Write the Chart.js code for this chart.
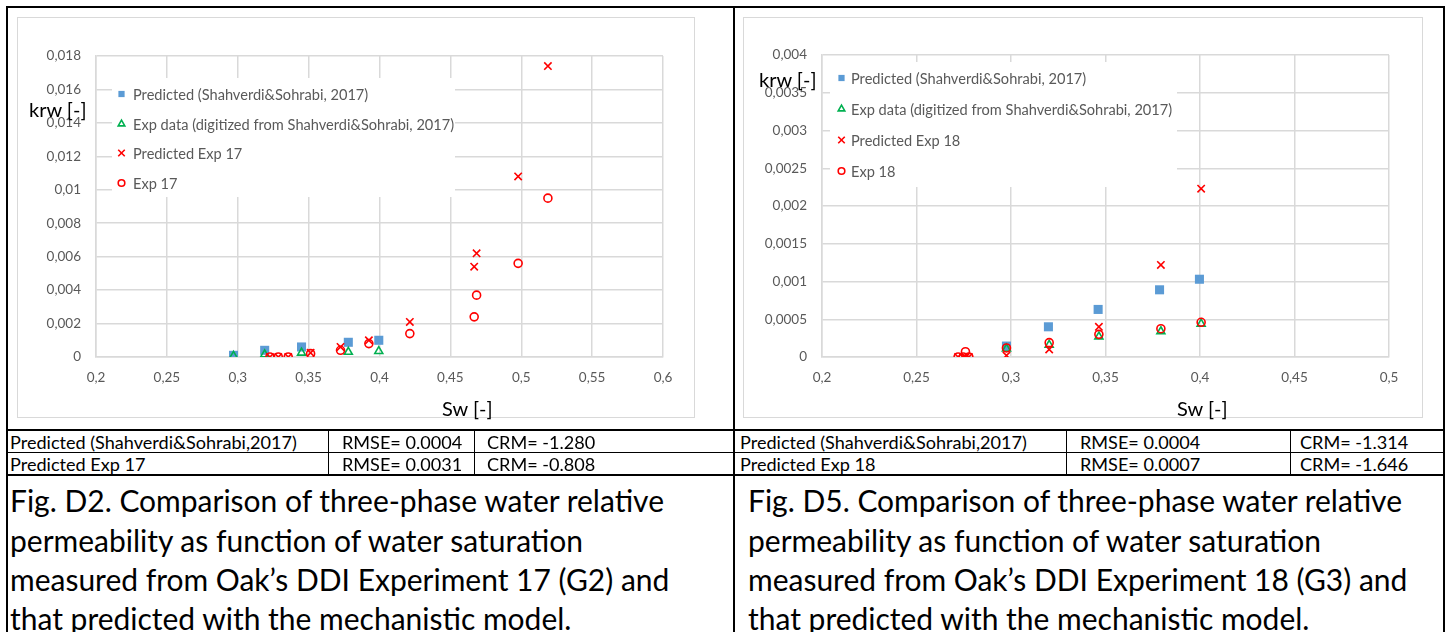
<!DOCTYPE html>
<html>
<head>
<meta charset="utf-8">
<script src="https://cdn.jsdelivr.net/npm/chart.js@4.4.1/dist/chart.umd.min.js"></script>
<style>
  html, body { margin: 0; padding: 0; background: #fff; }
  body { width: 1450px; height: 632px; position: relative; overflow: hidden; font-family: Lato, "Open Sans", sans-serif; }
  .ln { position: absolute; background: #000; }
  .frame { position: absolute; border: 1.5px solid #d9d9d9; box-sizing: border-box; }
  .cv { position: absolute; }
  .txt { position: absolute; white-space: nowrap; color: #000; }
  .ax { font-size: 20px; line-height: 24px; height: 24px; }
  .cell { height: 22px; line-height: 22px; }
  .cap { height: 40px; line-height: 40px; }
</style>
</head>
<body>

<!-- cell borders -->
<div class="ln" style="left:6px;top:6px;width:1439px;height:2px"></div>
<div class="ln" style="left:6px;top:6px;width:2px;height:626px"></div>
<div class="ln" style="left:733px;top:6px;width:2px;height:626px"></div>
<div class="ln" style="left:1443px;top:6px;width:2px;height:626px"></div>
<div class="ln" style="left:6px;top:429px;width:1439px;height:2px"></div>
<div class="ln" style="left:6px;top:452px;width:1439px;height:1px"></div>
<div class="ln" style="left:6px;top:474px;width:1439px;height:2px"></div>
<div class="ln" style="left:328px;top:430px;width:1px;height:45px"></div>
<div class="ln" style="left:474px;top:430px;width:1px;height:45px"></div>
<div class="ln" style="left:1066px;top:430px;width:1px;height:45px"></div>
<div class="ln" style="left:1290px;top:430px;width:1px;height:45px"></div>

<!-- chart frames and canvases -->
<div class="frame" style="left:17px;top:17px;width:678px;height:401px"></div>
<div class="frame" style="left:743px;top:17px;width:680px;height:401px"></div>
<canvas id="c17" class="cv" width="678" height="401" style="left:17px;top:17px"></canvas>
<canvas id="c18" class="cv" width="680" height="401" style="left:743px;top:17px"></canvas>

<!-- axis titles -->
<div class="txt ax" style="left:29px;top:97px">krw [-]</div>
<div class="txt ax" style="left:442px;top:396px">Sw [-]</div>
<div class="txt ax" style="left:759px;top:67px">krw [-]</div>
<div class="txt ax" style="left:1177px;top:396px">Sw [-]</div>

<!-- statistics rows -->
<div class="txt cell tb" style="left:10px;top:431px">Predicted (Shahverdi&amp;Sohrabi,2017)</div>
<div class="txt cell tb" style="left:342px;top:431px">RMSE= 0.0004</div>
<div class="txt cell tb" style="left:487px;top:431px">CRM= -1.280</div>
<div class="txt cell tb" style="left:10px;top:453px">Predicted Exp 17</div>
<div class="txt cell tb" style="left:342px;top:453px">RMSE= 0.0031</div>
<div class="txt cell tb" style="left:487px;top:453px">CRM= -0.808</div>

<div class="txt cell tb" style="left:740px;top:431px">Predicted (Shahverdi&amp;Sohrabi,2017)</div>
<div class="txt cell tb" style="left:1080px;top:431px">RMSE= 0.0004</div>
<div class="txt cell tb" style="left:1300px;top:431px">CRM= -1.314</div>
<div class="txt cell tb" style="left:740px;top:453px">Predicted Exp 18</div>
<div class="txt cell tb" style="left:1080px;top:453px">RMSE= 0.0007</div>
<div class="txt cell tb" style="left:1300px;top:453px">CRM= -1.646</div>

<!-- figure captions -->
<div class="txt cap" style="left:10px;top:480px">Fig. D2. Comparison of three-phase water relative</div>
<div class="txt cap" style="left:10px;top:520px">permeability as function of water saturation</div>
<div class="txt cap" style="left:10px;top:559px">measured from Oak’s DDI Experiment 17 (G2) and</div>
<div class="txt cap" style="left:10px;top:598px">that predicted with the mechanistic model.</div>

<div class="txt cap" style="left:748px;top:480px">Fig. D5. Comparison of three-phase water relative</div>
<div class="txt cap" style="left:748px;top:520px">permeability as function of water saturation</div>
<div class="txt cap" style="left:748px;top:559px">measured from Oak’s DDI Experiment 18 (G3) and</div>
<div class="txt cap" style="left:748px;top:598px">that predicted with the mechanistic model.</div>

<script>
// ---- Experiment 17 (G2) ----
const swPredSS17  = [0.297, 0.319, 0.345, 0.378, 0.3995];
const krwPredSS17 = [0.0001, 0.0004, 0.0006, 0.00088, 0.001];
const swExpSS17   = [0.297, 0.319, 0.345, 0.378, 0.3995];
const krwExpSS17  = [0.00006, 0.00015, 0.00025, 0.0003, 0.00035];
const swExp17     = [0.3227, 0.3286, 0.3356, 0.3514, 0.3725, 0.3925, 0.4214, 0.4668, 0.4685, 0.4978, 0.5188];
const krwPredExp17 = [0, 0, 0, 0.00025, 0.0006, 0.001, 0.0021, 0.0054, 0.0062, 0.0108, 0.0174];
const krwExp17     = [0, 0, 0, 0.0002, 0.0004, 0.0008, 0.0014, 0.0024, 0.0037, 0.0056, 0.0095];

// ---- Experiment 18 (G3) ----
const swPredSS18  = [0.2976, 0.3198, 0.3461, 0.3786, 0.3997];
const krwPredSS18 = [0.000145, 0.0004, 0.00063, 0.00089, 0.00103];
const swExpSS18   = [0.2976, 0.3202, 0.3465, 0.3793, 0.4006];
const krwExpSS18  = [0.00011, 0.00016, 0.00027, 0.00034, 0.00044];
const swExp18      = [0.272, 0.2747, 0.2759, 0.2777, 0.2976, 0.3202, 0.3465, 0.3793, 0.4006];
const krwPredExp18 = [0, 0, 0, 0, 0.00002, 0.0001, 0.0004, 0.00122, 0.00223];
const krwExp18     = [0, 0, 0.00007, 0, 0.00012, 0.00019, 0.0003, 0.000375, 0.00046];

// axis ranges and tick steps
const xRange17 = [0.2, 0.6], yRange17 = [0, 0.018], xStep17 = 0.05, yStep17 = 0.002;
const xRange18 = [0.2, 0.5], yRange18 = [0, 0.004], xStep18 = 0.05, yStep18 = 0.0005;

// series labels
const labelPredSS = 'Predicted (Shahverdi&Sohrabi, 2017)';
const labelExpSS  = 'Exp data (digitized from Shahverdi&Sohrabi, 2017)';

// fit text sizes to Calibri-like widths
function fitFont(selector, sample, targetW) {
  const c = document.createElement('canvas').getContext('2d');
  c.font = '100px Lato';
  const size = 100 * targetW / c.measureText(sample).width;
  document.querySelectorAll(selector).forEach(el => el.style.fontSize = size.toFixed(2) + 'px');
}
fitFont('.tb', 'Predicted (Shahverdi&Sohrabi,2017)', 287);
fitFont('.cap', 'Fig. D2. Comparison of three-phase water relative', 656);

const pts = (xs, ys) => xs.map((x, i) => ({ x, y: ys[i] }));
const commaFmt = v => (Math.abs(v) < 1e-12 ? '0' : String(+v.toFixed(6)).replace('.', ','));

const TXT = '#595959', GRID = '#d9d9d9';
const tickFont = { family: 'Lato', size: 13.5 };

function styleSets(labelPred, labelExp, sets) {
  return [
    { label: labelPredSS, data: sets[0], pointStyle: 'rect', pointRadius: 6.4, backgroundColor: '#5B9BD5', borderColor: '#5B9BD5', borderWidth: 0, order: 4, legendRadius: 4.4 },
    { label: labelExpSS, data: sets[1], pointStyle: 'triangle', pointRadius: 4.6, backgroundColor: 'rgba(0,0,0,0)', borderColor: '#00B050', borderWidth: 1.6, order: 3, legendRadius: 3.8 },
    { label: labelPred, data: sets[2], pointStyle: 'crossRot', pointRadius: 5.2, backgroundColor: 'rgba(0,0,0,0)', borderColor: '#FF0000', borderWidth: 1.6, order: 2, legendRadius: 4.6 },
    { label: labelExp, data: sets[3], pointStyle: 'circle', pointRadius: 4, backgroundColor: 'rgba(0,0,0,0)', borderColor: '#FF0000', borderWidth: 1.6, order: 1, legendRadius: 3.3 }
  ];
}

// legend drawn in a white box laid over the plot area
const boxLegend = {
  id: 'boxLegend',
  afterDatasetsDraw(chart, args, o) {
    const ctx = chart.ctx;
    ctx.save();
    ctx.fillStyle = '#fff';
    ctx.fillRect(o.x, o.y, o.w, o.h);
    ctx.font = '14.6px Lato';
    ctx.textBaseline = 'middle';
    chart.data.datasets.forEach((ds, i) => {
      const cy = o.rows[i];
      ctx.fillStyle = ds.backgroundColor;
      ctx.strokeStyle = ds.borderColor;
      ctx.lineWidth = ds.borderWidth || 1;
      Chart.helpers.drawPoint(ctx, { pointStyle: ds.pointStyle, radius: ds.legendRadius, borderWidth: ds.borderWidth, rotation: 0 }, o.mx, cy);
      ctx.fillStyle = TXT;
      ctx.fillText(ds.label, o.tx, cy + 1);
    });
    ctx.restore();
  }
};

function makeChart(id, sets, xr, yr, xs, ys, dims, legend) {
  return new Chart(document.getElementById(id), {
    type: 'scatter',
    data: { datasets: sets },
    plugins: [boxLegend],
    options: {
      responsive: false,
      animation: false,
      events: [],
      devicePixelRatio: 1,
      layout: { padding: { left: 0, top: dims.top, right: dims.right, bottom: 0 } },
      plugins: { legend: { display: false }, tooltip: { enabled: false }, boxLegend: legend },
      scales: {
        x: {
          type: 'linear', min: xr[0], max: xr[1],
          ticks: { stepSize: xs, padding: 13, color: TXT, font: tickFont, callback: commaFmt, maxRotation: 0, autoSkip: false },
          grid: { color: GRID, lineWidth: 1.5, drawTicks: false },
          border: { color: GRID, width: 1.5 },
          afterFit: s => { s.height = dims.xh; }
        },
        y: {
          type: 'linear', min: yr[0], max: yr[1],
          ticks: { stepSize: ys, padding: 15, color: TXT, font: tickFont, callback: commaFmt, autoSkip: false },
          grid: { color: GRID, lineWidth: 1.5, drawTicks: false },
          border: { color: GRID, width: 1.5 },
          afterFit: s => { s.width = dims.yw; }
        }
      }
    }
  });
}

makeChart('c17',
  styleSets('Predicted Exp 17', 'Exp 17', [
    pts(swPredSS17, krwPredSS17), pts(swExpSS17, krwExpSS17),
    pts(swExp17, krwPredExp17), pts(swExp17, krwExp17)]),
  xRange17, yRange17, xStep17, yStep17,
  { top: 39, right: 32, xh: 61, yw: 79 },
  { x: 95, y: 61, w: 343, h: 119, mx: 104.5, tx: 116, rows: [77, 107, 136, 166] });

makeChart('c18',
  styleSets('Predicted Exp 18', 'Exp 18', [
    pts(swPredSS18, krwPredSS18), pts(swExpSS18, krwExpSS18),
    pts(swExp18, krwPredExp18), pts(swExp18, krwExp18)]),
  xRange18, yRange18, xStep18, yStep18,
  { top: 38, right: 34, xh: 61, yw: 79 },
  { x: 87, y: 45, w: 347, h: 125, mx: 98.5, tx: 108, rows: [61, 92, 123, 154] });
</script>
</body>
</html>
